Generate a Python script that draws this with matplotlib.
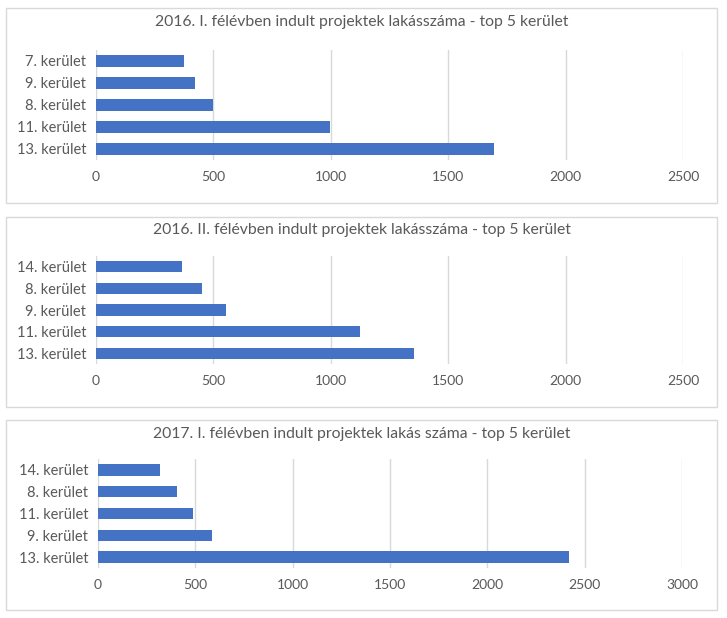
import matplotlib
matplotlib.use("Agg")
import matplotlib.pyplot as plt
from matplotlib.patches import Rectangle

plt.rcParams['font.family'] = ['Lato', 'DejaVu Sans']

# adatok - felülről lefelé sorrendben
titles = ["2016. I. félévben indult projektek lakásszáma - top 5 kerület",
          "2016. II. félévben indult projektek lakásszáma - top 5 kerület",
          "2017. I. félévben indult projektek lakás száma - top 5 kerület"]
labels_1 = ["7. kerület", "9. kerület", "8. kerület", "11. kerület", "13. kerület"]
values_1 = [375, 423, 498, 998, 1696]
labels_2 = ["14. kerület", "8. kerület", "9. kerület", "11. kerület", "13. kerület"]
values_2 = [368, 453, 555, 1123, 1356]
labels_3 = ["14. kerület", "8. kerület", "11. kerület", "9. kerület", "13. kerület"]
values_3 = [319, 405, 486, 588, 2419]
xmax = [2500, 2500, 3000]

W, H = 727, 618
fig = plt.figure(figsize=(W / 100, H / 100), dpi=100)

# panel keretek (px): x0, y0, x1, y1
boxes = [(6, 8, 717, 203), (6, 217, 717, 407), (6, 420, 717, 610)]
# tengely terület (px): left, top, right, bottom
axes_px = [(96, 50, 683, 160), (96, 256, 683, 364), (98, 459, 682, 568)]
title_y = [22, 230, 434]

panels = [(labels_1, values_1), (labels_2, values_2), (labels_3, values_3)]
txt = '#595959'

for i, (labs, vals) in enumerate(panels):
    x0, y0, x1, y1 = boxes[i]
    fig.patches.append(Rectangle((x0 / W, 1 - y1 / H), (x1 - x0) / W, (y1 - y0) / H,
                                 transform=fig.transFigure, fill=False,
                                 edgecolor='#d9d9d9', linewidth=1))
    l, t, r, b = axes_px[i]
    ax = fig.add_axes([l / W, 1 - b / H, (r - l) / W, (b - t) / H])
    # alulról felfelé rajzolva
    ax.barh(list(reversed(labs)), list(reversed(vals)), height=0.52, color='#4472C4')
    ax.set_xlim(0, xmax[i])
    ax.set_ylim(-0.5, 4.5)
    ax.set_xticks(range(0, xmax[i] + 1, 500))
    ax.grid(axis='x', color='#d9d9d9', linewidth=1)
    ax.set_axisbelow(True)
    for s in ax.spines.values():
        s.set_visible(False)
    ax.tick_params(length=0, labelsize=10, colors=txt, pad=8)
    ax.tick_params(axis='y', labelsize=10.5, pad=7)
    fig.text(0.5 * (x0 + x1) / W, 1 - title_y[i] / H, titles[i], ha='center', va='center',
             fontsize=11.3, color=txt)

fig.savefig("out.png", dpi=100)
